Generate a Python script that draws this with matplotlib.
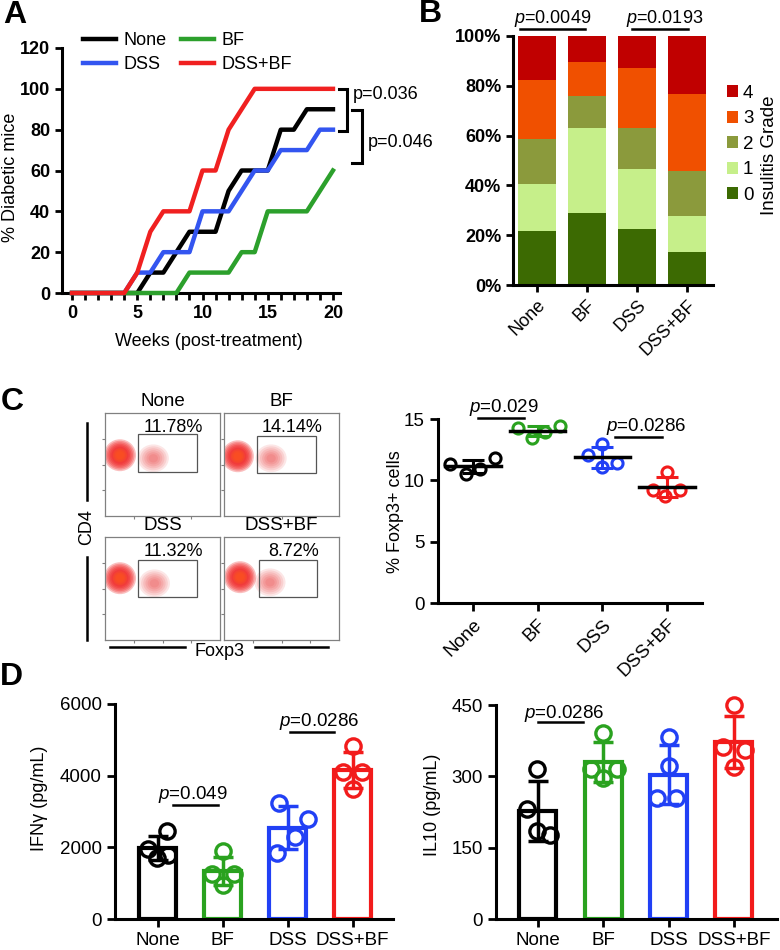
import numpy as np
import matplotlib
matplotlib.use("Agg")
import matplotlib.pyplot as plt
from matplotlib.lines import Line2D
from matplotlib.patches import Ellipse, Rectangle

plt.rcParams['font.family'] = ['Liberation Sans', 'DejaVu Sans']
plt.rcParams['mathtext.fontset'] = 'custom'
plt.rcParams['mathtext.rm'] = 'Liberation Sans'
plt.rcParams['mathtext.it'] = 'Liberation Sans:italic'

# ---------------- data ----------------
groups = ["None", "BF", "DSS", "DSS+BF"]

# A: cumulative diabetes incidence (%)
weeks = np.arange(0, 21)
inc_none = [0, 0, 0, 0, 0, 0, 10, 10, 20, 30, 30, 30, 50, 60, 60, 60, 80, 80, 90, 90, 90]
inc_bf = [0, 0, 0, 0, 0, 0, 0, 0, 0, 10, 10, 10, 10, 20, 20, 40, 40, 40, 40, 50, 60]
inc_dss = [0, 0, 0, 0, 0, 10, 10, 20, 20, 20, 40, 40, 40, 50, 60, 60, 70, 70, 70, 80, 80]
inc_dssbf = [0, 0, 0, 0, 0, 10, 30, 40, 40, 40, 60, 60, 80, 90, 100, 100, 100, 100, 100, 100, 100]

# B: insulitis grade distribution (%), per group None, BF, DSS, DSS+BF
grade_0 = [21.5, 28.8, 22.5, 13.4]
grade_1 = [19.0, 34.1, 23.9, 14.5]
grade_2 = [18.0, 13.2, 16.6, 17.8]
grade_3 = [24.0, 13.4, 24.0, 31.2]
grade_4 = [17.5, 10.5, 13.0, 23.1]
grade_labels = ["0", "1", "2", "3", "4"]

# C: flow cytometry (relative plot coordinates)
flow_percent = ["11.78%", "14.14%", "11.32%", "8.72%"]
neg_x = [0.13, 0.12, 0.13, 0.14]
neg_y = [0.59, 0.58, 0.60, 0.61]
pos_x = [0.42, 0.41, 0.43, 0.40]
pos_y = [0.56, 0.56, 0.55, 0.56]
gate_x0 = [0.29, 0.29, 0.29, 0.30]
gate_x1 = [0.80, 0.80, 0.80, 0.81]
gate_y0 = [0.43, 0.42, 0.42, 0.42]
gate_y1 = [0.80, 0.78, 0.78, 0.78]

# C: % Foxp3+ cells
foxp3_none = [11.35, 10.55, 10.9, 11.8]
foxp3_bf = [14.27, 13.46, 13.9, 14.46]
foxp3_dss = [12.1, 13.0, 11.06, 11.42]
foxp3_dssbf = [9.24, 10.65, 8.75, 9.24]

# D: cytokines (pg/mL)
ifng_none = [2450, 1950, 1800, 1700]
ifng_bf = [1900, 1250, 1250, 950]
ifng_dss = [3250, 2780, 2300, 1850]
ifng_dssbf = [4830, 4090, 4090, 3620]
il10_none = [316, 231, 186, 176]
il10_bf = [391, 316, 296, 316]
il10_dss = [383, 322, 254, 254]
il10_dssbf = [450, 362, 356, 320]

# ---------------- styling ----------------
W, H = 780, 950
fig = plt.figure(figsize=(7.8, 9.5), dpi=100)

grp_colors = ["#000000", "#2aa21f", "#2140f5", "#f21b1b"]
lineA_colors = {"None": "#000000", "BF": "#2ca02c", "DSS": "#3355f0", "DSS+BF": "#f02020"}
grade_colors = ["#3c6a02", "#c6ef8a", "#8b9a3c", "#f05000", "#c00000"]


def add_ax(left, top, right, bottom):
    return fig.add_axes([left / W, 1 - bottom / H, (right - left) / W, (bottom - top) / H])


def fxy(px, py):
    return px / W, 1 - py / H


def clean(ax, lw=2.2):
    ax.spines['top'].set_visible(False)
    ax.spines['right'].set_visible(False)
    ax.spines['left'].set_linewidth(lw)
    ax.spines['bottom'].set_linewidth(lw)


for letter, px, py in [("A", 15, 15), ("B", 430, 14), ("C", 12, 402), ("D", 11, 677)]:
    fig.text(*fxy(px, py), letter, fontsize=23, fontweight='bold', ha='center', va='center')

# ---------------- A ----------------
axA = add_ax(62, 48, 340, 293)
series_A = [("None", inc_none), ("DSS", inc_dss), ("BF", inc_bf), ("DSS+BF", inc_dssbf)]
for name, vals in series_A:
    axA.plot(weeks, vals, color=lineA_colors[name], lw=3.2, label=name, clip_on=False, zorder=3)
axA.set_xlim(-0.77, 20.54)
axA.set_ylim(0, 120)
axA.set_xticks([0, 5, 10, 15, 20])
axA.set_xticks(range(0, 21), minor=True)
axA.set_yticks(range(0, 121, 20))
clean(axA)
axA.tick_params(which='both', width=2, length=5, labelsize=13)
for t in axA.get_xticklabels() + axA.get_yticklabels():
    t.set_fontweight('bold')
axA.set_xlabel("Weeks (post-treatment)", fontsize=13)
axA.xaxis.label.set_va('center')
axA.xaxis.set_label_coords((209 - 62) / 278, (293 - 342) / 245)
axA.set_ylabel("% Diabetic mice", fontsize=13)
axA.yaxis.label.set_va('center')
axA.yaxis.set_label_coords((11 - 62) / 278, (293 - 177) / 245)
axA.legend(ncol=2, loc='upper left', bbox_to_anchor=((83 - 62) / 278, (293 - 32) / 245),
           frameon=False, fontsize=13, handlelength=1.8, handletextpad=0.45,
           columnspacing=0.8, labelspacing=0.4, borderpad=0, borderaxespad=0)

# significance brackets
brackets_A = [(20.46, 21.07, 100, 79.4, "p=0.036", 97), (21.46, 22.22, 89.7, 63.7, "p=0.046", 73.5)]
for x0, x1, ytop, ybot, txt, ty in brackets_A:
    axA.plot([x0, x1, x1, x0], [ytop, ytop, ybot, ybot], color='k', lw=2.2, clip_on=False,
             solid_joinstyle='miter')
    axA.text(x1 + 0.45, ty, txt, fontsize=13, ha='left', va='center', clip_on=False)

# ---------------- B ----------------
axB = add_ax(513, 36, 713, 285)
xb = np.arange(4)
bottom = np.zeros(4)
for vals, c, lab in zip([grade_0, grade_1, grade_2, grade_3, grade_4], grade_colors, grade_labels):
    axB.bar(xb, vals, 0.76, bottom=bottom, color=c, label=lab, zorder=1)
    bottom += np.array(vals)
axB.set_xlim(-0.48, 3.52)
axB.set_ylim(0, 100)
axB.set_yticks(range(0, 101, 20))
axB.set_yticklabels([f"{v}%" for v in range(0, 101, 20)], fontweight='bold')
axB.set_xticks(xb)
axB.set_xticklabels(groups, rotation=45, ha='right', rotation_mode='anchor', fontsize=13)
clean(axB)
axB.tick_params(width=2, length=5, labelsize=13)
h, l = axB.get_legend_handles_labels()
axB.legend(h[::-1], l[::-1], loc='upper left', bbox_to_anchor=((727 - 513) / 200, (285 - 85) / 249),
           frameon=False, fontsize=13.5, handlelength=0.6, handleheight=0.6, handletextpad=0.25,
           labelspacing=0.45, borderpad=0, borderaxespad=0)
fig.text(*fxy(769, 155), "Insulitis Grade", rotation=90, fontsize=13.5, ha='center', va='center')
for x0, x1, xt, txt in [(-0.34, 0.96, 0.32, r"$p$=0.0049"), (1.9, 3.02, 2.56, r"$p$=0.0193")]:
    axB.plot([x0, x1], [103, 103], color='k', lw=1.8, clip_on=False)
    axB.text(xt, 107, txt, fontsize=13, ha='center', va='center', clip_on=False)

# ---------------- C: flow plots ----------------
flow_boxes = [(105, 413, 220, 516), (224, 413, 339, 516), (105, 537, 220, 640), (224, 537, 339, 640)]
neg_layers = np.linspace(1.0, 0.25, 9)
pos_layers = np.linspace(1.0, 0.3, 6)
for i, (l, t, r, b) in enumerate(flow_boxes):
    ax = add_ax(l, t, r, b)
    ax.set_xlim(0, 1)
    ax.set_ylim(0, 1)
    for s in ax.spines.values():
        s.set_linewidth(0.9)
        s.set_color('#808080')
    ax.set_xticks([0.25, 0.5, 0.75])
    ax.set_yticks([0.25, 0.5, 0.75])
    ax.tick_params(length=2.5, width=0.8, color='#808080', labelleft=False, labelbottom=False)
    # negative (main) population: stacked translucent layers -> soft dense blob
    for k, sc in enumerate(neg_layers):
        col = '#f01c1c' if k < 6 else '#ff5a14'
        ax.add_patch(Ellipse((neg_x[i], neg_y[i]), 0.28 * sc, 0.31 * sc, color=col, alpha=0.28, lw=0))
    # Foxp3+ population: sparser cloud
    for sc in pos_layers:
        ax.add_patch(Ellipse((pos_x[i], pos_y[i]), 0.27 * sc, 0.27 * sc, color='#e82020', alpha=0.11, lw=0))
    ax.add_patch(Rectangle((gate_x0[i], gate_y0[i]), gate_x1[i] - gate_x0[i], gate_y1[i] - gate_y0[i],
                           fill=False, ec='#555555', lw=0.9))
    ax.text(0.5, 1 + 11 / 103, groups[i], transform=ax.transAxes, fontsize=13.5, ha='center', va='center')
    ax.text((gate_x0[i] + gate_x1[i]) / 2 + 0.05, 0.855, flow_percent[i], transform=ax.transAxes,
            fontsize=13, ha='center', va='center')

fig.text(*fxy(87, 527), "CD4", rotation=90, fontsize=13, ha='center', va='center')
fig.add_artist(Line2D([87 / W, 87 / W], [1 - 423 / H, 1 - 500 / H], color='k', lw=1.8))
fig.add_artist(Line2D([87 / W, 87 / W], [1 - 557 / H, 1 - 640 / H], color='k', lw=1.8))
fig.text(*fxy(219, 652), "Foxp3", fontsize=13, ha='center', va='center')
fig.add_artist(Line2D([110 / W, 185 / W], [1 - 647 / H, 1 - 647 / H], color='k', lw=1.8))
fig.add_artist(Line2D([255 / W, 328 / W], [1 - 647 / H, 1 - 647 / H], color='k', lw=1.8))

# ---------------- C: % Foxp3+ ----------------
axC = add_ax(438, 419, 702, 603)
foxp3 = [foxp3_none, foxp3_bf, foxp3_dss, foxp3_dssbf]
jitter_C = [[-0.36, -0.11, 0.11, 0.34], [-0.31, -0.09, 0.11, 0.35],
            [-0.22, 0.0, 0.0, 0.23], [-0.22, 0.0, -0.03, 0.2]]
for i, vals in enumerate(foxp3):
    v = np.array(vals)
    m, sd = v.mean(), v.std(ddof=1)
    axC.errorbar(i, m, yerr=sd, color=grp_colors[i], lw=2.2, capsize=8, capthick=2.2, zorder=3)
    axC.plot(i + np.array(jitter_C[i]), v, 'o', mfc='none', mec=grp_colors[i], ms=8, mew=2.2, zorder=4)
    axC.plot([i - 0.43, i + 0.43], [m, m], color='k', lw=2.5, zorder=5)
axC.set_xlim(-0.54, 3.54)
axC.set_ylim(0, 15)
axC.set_yticks([0, 5, 10, 15])
axC.set_xticks(range(4))
axC.set_xticklabels(groups, rotation=45, ha='right', rotation_mode='anchor')
clean(axC)
axC.tick_params(width=2, length=6, labelsize=13.5)
axC.set_ylabel("% Foxp3+ cells", fontsize=13)
axC.yaxis.label.set_va('center')
axC.yaxis.set_label_coords((395 - 438) / 264, (603 - 512) / 184)
for x0, x1, y, xt, yt, txt in [(0.08, 0.79, 15.08, 0.48, 15.97, r"$p$=0.029"),
                               (2.19, 2.92, 13.5, 2.67, 14.4, r"$p$=0.0286")]:
    axC.plot([x0, x1], [y, y], color='k', lw=1.8, clip_on=False)
    axC.text(xt, yt, txt, fontsize=13.5, ha='center', va='center', clip_on=False)


# ---------------- D ----------------
def cyto_panel(ax, data, jitter, ymax, yticks, ylabel, comps):
    for i, vals in enumerate(data):
        v = np.array(vals)
        m, sd = v.mean(), v.std(ddof=1)
        ax.bar(i, m, 0.57, color='white', edgecolor=grp_colors[i], lw=3, zorder=2)
        ax.errorbar(i, m, yerr=sd, color=grp_colors[i], lw=2.5, capsize=7, capthick=2.5, zorder=3)
        ax.plot(i + np.array(jitter[i]), v, 'o', mfc='none', mec=grp_colors[i], ms=11, mew=2.4,
                zorder=4, clip_on=False)
    ax.set_ylim(0, ymax)
    ax.set_yticks(yticks)
    ax.set_xticks(range(4))
    ax.set_xticklabels(groups)
    clean(ax)
    ax.tick_params(width=2, length=6, labelsize=13.5)
    ax.set_ylabel(ylabel, fontsize=13)
    ax.yaxis.label.set_va('center')
    for x0, x1, y, xt, yt, txt in comps:
        ax.plot([x0, x1], [y, y], color='k', lw=1.8, clip_on=False)
        ax.text(xt, yt, txt, fontsize=13.5, ha='center', va='center', clip_on=False)


axD1 = add_ax(115, 704, 393, 919)
axD1.set_xlim(-0.66, 3.62)
cyto_panel(axD1, [ifng_none, ifng_bf, ifng_dss, ifng_dssbf],
           [[0.14, -0.15, 0.15, -0.02], [0, -0.17, 0.17, 0], [-0.14, 0.31, 0.11, -0.17], [0, -0.15, 0.15, 0]],
           6000, [0, 2000, 4000, 6000], "IFNγ (pg/mL)",
           [(0.23, 0.92, 3170, 0.54, 3480, r"$p$=0.049"), (2.03, 2.71, 5217, 2.49, 5500, r"$p$=0.0286")])
axD1.yaxis.set_label_coords((40 - 115) / 278, (919 - 798) / 215)

axD2 = add_ax(496, 705, 777, 919)
axD2.set_xlim(-0.64, 3.66)
cyto_panel(axD2, [il10_none, il10_bf, il10_dss, il10_dssbf],
           [[-0.02, -0.17, -0.02, 0.18], [0, -0.18, 0, 0.21], [0, 0, -0.17, 0.12], [0, -0.17, 0.17, 0]],
           450, [0, 150, 300, 450], "IL10 (pg/mL)",
           [(0.0, 0.69, 414, 0.41, 433, r"$p$=0.0286")])
axD2.yaxis.set_label_coords((433 - 496) / 281, (919 - 805) / 214)

fig.savefig("out.png", dpi=100)
